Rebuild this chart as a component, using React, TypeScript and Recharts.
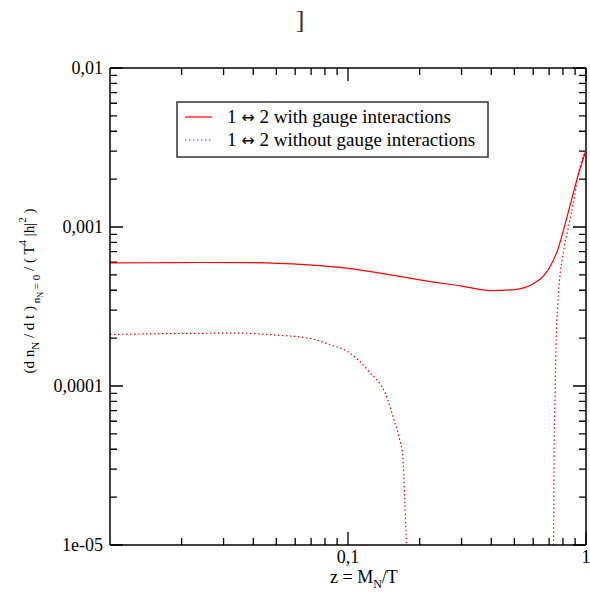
import React from 'react';
import { LineChart, Line, XAxis, YAxis, ReferenceDot, ReferenceLine, Customized } from 'recharts';

// z = M_N / T
const solidZ = [0.01, 0.015, 0.024, 0.04, 0.068, 0.1, 0.167, 0.2, 0.3, 0.4, 0.5, 0.6, 0.7, 0.76, 0.811, 0.865, 0.923, 1.0];
const solidRate = [5.94e-4, 5.96e-4, 5.98e-4, 5.97e-4, 5.77e-4, 5.49e-4, 4.87e-4, 4.65e-4, 4.25e-4, 3.98e-4, 4.04e-4, 4.4e-4, 5.5e-4, 7.16e-4, 1.0e-3, 1.44e-3, 2.07e-3, 3.05e-3];

// without gauge interactions: negative between ~0.18 and ~0.73 (gap)
const dottedZ = [0.01, 0.02, 0.035, 0.05, 0.068, 0.085, 0.1, 0.121, 0.147, 0.156, 0.1637, 0.17, 0.173, 0.176, 0.4, 0.731, 0.735, 0.741, 0.748, 0.76, 0.806, 0.844, 0.89, 0.923, 1.0];
const dottedRate = [2.11e-4, 2.14e-4, 2.15e-4, 2.09e-4, 2.0e-4, 1.81e-4, 1.64e-4, 1.26e-4, 8.17e-5, 6.11e-5, 4.78e-5, 3.57e-5, 2.0e-5, 1.0e-5, null, 1.0e-5, 4.57e-5, 8.2e-5, 1.77e-4, 3.14e-4, 7.16e-4, 1.0e-3, 1.48e-3, 2.07e-3, 3.05e-3];

const xTicks = [0.02, 0.03, 0.04, 0.05, 0.06, 0.07, 0.08, 0.09, 0.1, 0.2, 0.3, 0.4, 0.5, 0.6, 0.7, 0.8, 0.9, 1];
const xMajor = [0.1, 1];
const xLabels = ['0,1', '1'];

const yTicks = [
  1e-5, 2e-5, 3e-5, 4e-5, 5e-5, 6e-5, 7e-5, 8e-5, 9e-5,
  1e-4, 2e-4, 3e-4, 4e-4, 5e-4, 6e-4, 7e-4, 8e-4, 9e-4,
  1e-3, 2e-3, 3e-3, 4e-3, 5e-3, 6e-3, 7e-3, 8e-3, 9e-3,
  1e-2,
];
const yMajor = [1e-5, 1e-4, 1e-3, 1e-2];
const yLabels = ['1e-05', '0,0001', '0,001', '0,01'];

const solidData = solidZ.map((z, i) => ({ z, v: solidRate[i] }));
const dottedData = dottedZ.map((z, i) => ({ z, v: dottedRate[i] }));

const FONT = '"Liberation Serif", "Times New Roman", serif';
const ARROW = '"DejaVu Sans", sans-serif';
const RED = '#ff0000';
const MAJOR = 13;
const MINOR = 7;

const isMajor = (list: number[], v: number) =>
  list.some((m) => Math.abs(m - v) / m < 1e-6);

// inward tick stubs at both ends of a reference line (frame ticks on all 4 sides)
const vTickShape = (len: number) => (p: any) => {
  const bottom = Math.max(p.y1, p.y2);
  const top = Math.min(p.y1, p.y2);
  return <path d={`M${p.x1},${bottom}v${-len}M${p.x1},${top}v${len}`} stroke="#000" strokeWidth={1.3} fill="none" />;
};
const hTickShape = (len: number) => (p: any) => {
  const left = Math.min(p.x1, p.x2);
  const right = Math.max(p.x1, p.x2);
  return <path d={`M${left},${p.y1}h${len}M${right},${p.y1}h${-len}`} stroke="#000" strokeWidth={1.3} fill="none" />;
};

const Decorations = () => (
  <g fontFamily={FONT} fill="#000">
    <text x={300} y={28} textAnchor="middle" fontSize={26} fill="#333">]</text>

    {/* legend */}
    <rect x={177} y={102} width={311} height={55} fill="#fff" stroke="#333" strokeWidth={1.5} />
    <path d="M185,117h27" stroke={RED} strokeWidth={1.2} />
    <path d="M185,140h27" stroke={RED} strokeWidth={1.2} strokeDasharray="1.5 2.5" />
    <text x={227} y={123} fontSize={19}>
      1 <tspan fontFamily={ARROW} fontSize={16}>↔</tspan> 2 with gauge interactions
    </text>
    <text x={227} y={146} fontSize={19}>
      1 <tspan fontFamily={ARROW} fontSize={16}>↔</tspan> 2 without gauge interactions
    </text>

    {/* x label */}
    <text x={330} y={583} fontSize={18}>
      z = M<tspan dy={5} fontSize={12}>N</tspan><tspan dy={-5}>/T</tspan>
    </text>

    {/* y label */}
    <text transform="translate(34, 291) rotate(-90)" textAnchor="middle" fontSize={15}>
      (d n<tspan dy={5} fontSize={11}>N</tspan>
      <tspan dy={-5}> / d t )</tspan>
      <tspan dy={6} fontSize={11}> n</tspan>
      <tspan dy={3} fontSize={8}>N</tspan>
      <tspan dy={-3} fontSize={11}> = 0</tspan>
      <tspan dy={-6}> / ( T</tspan>
      <tspan dy={-8} fontSize={11}>4</tspan>
      <tspan dy={8}> |h|</tspan>
      <tspan dy={-8} fontSize={11}>2</tspan>
      <tspan dy={8}> )</tspan>
    </text>
  </g>
);

const axisLine = { stroke: '#000', strokeWidth: 1.5 };
const labelStyle = { fontFamily: FONT, fontSize: 18, fill: '#000' };

export default function App() {
  return (
    <div style={{ position: 'absolute', left: 0, top: 0, background: '#fff' }}>
      <LineChart width={590} height={593} margin={{ top: 68, right: 4, bottom: 0, left: 0 }}>
        <XAxis
          xAxisId="b"
          type="number"
          dataKey="z"
          scale="log"
          domain={[0.01, 1]}
          allowDataOverflow
          ticks={xTicks}
          height={48}
          tick={false}
          tickLine={false}
          axisLine={axisLine}
        />
        <YAxis
          yAxisId="l"
          type="number"
          scale="log"
          domain={[1e-5, 0.01]}
          allowDataOverflow
          ticks={yTicks}
          width={110}
          tick={false}
          tickLine={false}
          axisLine={axisLine}
        />
        {/* top and right frame edges */}
        <ReferenceLine xAxisId="b" yAxisId="l" y={0.01} stroke="#000" strokeWidth={1.5} />
        <ReferenceLine xAxisId="b" yAxisId="l" x={1} stroke="#000" strokeWidth={1.5} />

        {xTicks.map((v) => (
          <ReferenceLine
            key={`xt${v}`}
            xAxisId="b"
            yAxisId="l"
            x={v}
            stroke="none"
            shape={vTickShape(isMajor(xMajor, v) ? MAJOR : MINOR)}
          />
        ))}
        {yTicks.map((v) => (
          <ReferenceLine
            key={`yt${v}`}
            xAxisId="b"
            yAxisId="l"
            y={v}
            stroke="none"
            shape={hTickShape(isMajor(yMajor, v) ? MAJOR : MINOR)}
          />
        ))}

        <Line
          xAxisId="b"
          yAxisId="l"
          data={solidData}
          dataKey="v"
          type="monotone"
          stroke={RED}
          strokeWidth={1.2}
          dot={false}
          isAnimationActive={false}
        />
        <Line
          xAxisId="b"
          yAxisId="l"
          data={dottedData}
          dataKey="v"
          type="monotone"
          stroke={RED}
          strokeWidth={1.2}
          strokeDasharray="1.5 2.5"
          dot={false}
          connectNulls={false}
          isAnimationActive={false}
        />
        {xMajor.map((v, i) => (
          <ReferenceDot
            key={`xl${i}`}
            xAxisId="b"
            yAxisId="l"
            x={v}
            y={yMajor[0]}
            r={0}
            fill="none"
            stroke="none"
            ifOverflow="visible"
            label={{ value: xLabels[i], position: 'bottom', offset: 5, ...labelStyle }}
          />
        ))}
        {yMajor.map((v, i) => (
          <ReferenceDot
            key={`yl${i}`}
            xAxisId="b"
            yAxisId="l"
            x={xTicks[0] / 2}
            y={v}
            r={0}
            fill="none"
            stroke="none"
            ifOverflow="visible"
            label={{ value: yLabels[i], position: 'left', offset: 7, ...labelStyle }}
          />
        ))}
        <Customized component={<Decorations />} />
      </LineChart>
    </div>
  );
}
